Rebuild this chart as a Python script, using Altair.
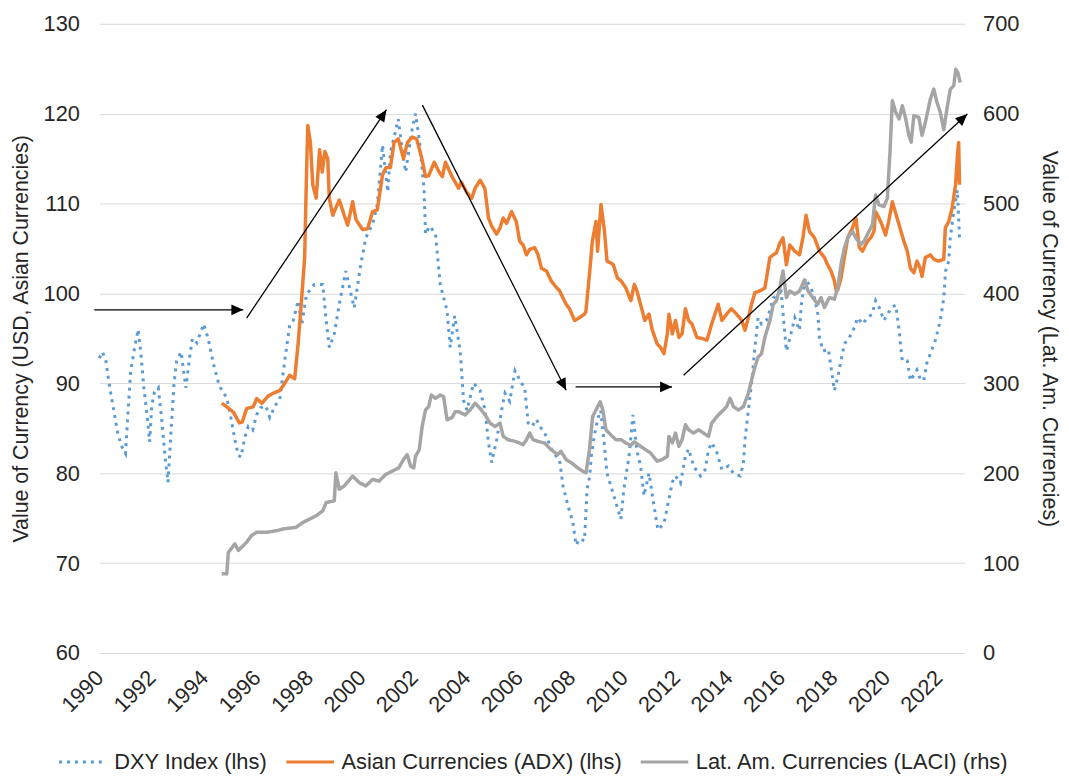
import math
import altair as alt
import pandas as pd

# ---------------- data ----------------
series_names = ["DXY Index (lhs)", "Asian Currencies (ADX) (lhs)", "Lat. Am. Currencies (LACI) (rhs)"]
series_colors = ["#5B9BD5", "#ED7D31", "#A5A5A5"]

x_ticks = [1990, 1992, 1994, 1996, 1998, 2000, 2002, 2004, 2006, 2008, 2010,
           2012, 2014, 2016, 2018, 2020, 2022]
left_ticks = [60, 70, 80, 90, 100, 110, 120, 130]
right_ticks = [0, 100, 200, 300, 400, 500, 600, 700]

dxy_year = [
    1990.00, 1990.12, 1990.25, 1990.40, 1990.55, 1990.70, 1990.85, 1991.00, 1991.10, 1991.20,
    1991.35, 1991.48, 1991.58, 1991.70, 1991.80, 1991.92, 1992.00, 1992.10, 1992.25, 1992.38,
    1992.50, 1992.62, 1992.72, 1992.85, 1992.95, 1993.12, 1993.30, 1993.45, 1993.55, 1993.72,
    1993.98, 1994.15, 1994.35, 1994.55, 1994.70, 1994.85, 1995.00, 1995.15, 1995.30, 1995.40,
    1995.55, 1995.68, 1995.85, 1996.00, 1996.15, 1996.35, 1996.50, 1996.70, 1996.88, 1997.07,
    1997.26, 1997.40, 1997.58, 1997.72, 1997.90, 1998.20, 1998.52, 1998.65, 1998.77, 1998.96,
    1999.15, 1999.40, 1999.55, 1999.72, 1999.97, 2000.16, 2000.42, 2000.60, 2000.80, 2001.00,
    2001.10, 2001.25, 2001.40, 2001.55, 2001.68, 2001.93, 2002.06, 2002.20, 2002.38, 2002.44,
    2002.60, 2002.82, 2003.00, 2003.26, 2003.38, 2003.55, 2003.76, 2003.89, 2004.02, 2004.27,
    2004.52, 2004.71, 2004.84, 2004.96, 2005.15, 2005.34, 2005.47, 2005.65, 2005.85, 2006.10,
    2006.22, 2006.35, 2006.50, 2006.67, 2006.80, 2006.98, 2007.10, 2007.30, 2007.55, 2007.68,
    2007.87, 2008.06, 2008.18, 2008.31, 2008.50, 2008.60, 2008.70, 2008.76, 2008.87, 2009.00,
    2009.12, 2009.25, 2009.36, 2009.62, 2009.89, 2010.00, 2010.20, 2010.35, 2010.50, 2010.64,
    2010.77, 2010.96, 2011.15, 2011.30, 2011.53, 2011.72, 2011.85, 2011.97, 2012.16, 2012.35,
    2012.47, 2012.66, 2012.92, 2013.10, 2013.23, 2013.35, 2013.55, 2013.74, 2013.99, 2014.18,
    2014.43, 2014.56, 2014.62, 2014.75, 2014.87, 2015.00, 2015.12, 2015.25, 2015.44, 2015.57,
    2015.70, 2016.00, 2016.20, 2016.33, 2016.52, 2016.70, 2016.77, 2016.92, 2017.14, 2017.27,
    2017.40, 2017.46, 2017.60, 2017.80, 2017.90, 2018.03, 2018.16, 2018.28, 2018.41, 2018.60,
    2018.79, 2018.91, 2019.10, 2019.29, 2019.47, 2019.60, 2019.73, 2019.92, 2020.05, 2020.24,
    2020.37, 2020.50, 2020.56, 2020.62, 2020.81, 2020.93, 2021.18, 2021.30, 2021.44, 2021.55,
    2021.69, 2021.88, 2022.07, 2022.20, 2022.27, 2022.39, 2022.45, 2022.58, 2022.72, 2022.80,
]
dxy_value = [
    92.8, 93.5, 92.5, 89.5, 87.0, 84.5, 83.0, 82.2, 87.0, 91.5,
    94.0, 96.0, 93.5, 89.5, 87.0, 83.5, 87.5, 89.0, 89.5, 86.0,
    82.0, 79.0, 84.0, 90.0, 92.5, 93.5, 89.5, 93.0, 95.0, 94.5,
    96.6, 95.0, 92.2, 90.0, 89.0, 88.5, 86.5, 84.0, 82.0, 81.8,
    84.0, 85.2, 84.8, 86.5, 87.3, 87.5, 86.2, 87.5, 88.2, 92.5,
    96.5, 97.0, 99.2, 96.5, 99.9, 101.0, 101.0, 97.0, 94.0, 95.5,
    98.8, 102.5, 100.5, 98.4, 103.2, 106.2, 107.7, 109.9, 116.5, 111.3,
    115.7, 117.5, 119.4, 116.0, 113.5, 118.3, 120.0, 117.2, 111.7, 106.6,
    107.5, 106.6, 101.0, 98.1, 94.0, 97.5, 93.6, 88.1, 87.0, 90.0,
    89.2, 87.0, 83.4, 81.2, 83.7, 87.0, 88.9, 88.0, 91.4, 90.0,
    89.6, 85.6, 85.2, 86.0, 85.2, 84.5, 83.7, 82.3, 81.5, 78.6,
    76.4, 74.5, 72.0, 72.7, 72.5, 78.2, 79.7, 81.9, 84.1, 86.0,
    87.0, 83.4, 80.0, 77.5, 74.9, 78.2, 81.9, 86.5, 82.5, 80.8,
    77.5, 80.0, 76.4, 73.7, 74.4, 77.1, 79.0, 79.7, 78.9, 81.9,
    82.7, 80.8, 79.7, 80.4, 82.6, 83.4, 82.3, 80.4, 80.8, 80.0,
    79.7, 81.0, 83.7, 87.0, 90.0, 94.0, 97.3, 96.6, 97.0, 98.1,
    99.5, 100.2, 93.6, 95.0, 97.3, 95.9, 98.8, 101.7, 100.6, 99.5,
    97.7, 95.1, 93.6, 93.8, 91.8, 89.2, 90.7, 92.5, 94.4, 95.1,
    96.2, 97.3, 96.6, 97.3, 97.7, 99.2, 98.5, 97.0, 97.7, 98.5,
    98.7, 95.9, 94.0, 92.5, 92.5, 90.3, 91.5, 90.5, 90.3, 92.2,
    93.3, 94.8, 97.0, 99.5, 102.5, 103.6, 106.2, 109.1, 111.5, 106.2,
]

adx_year = [
    1994.67, 1994.90, 1995.11, 1995.34, 1995.45, 1995.62, 1995.87, 1996.00, 1996.20, 1996.44,
    1996.63, 1996.88, 1997.07, 1997.26, 1997.45, 1997.58, 1997.70, 1997.83, 1997.90, 1997.95,
    1998.05, 1998.14, 1998.27, 1998.40, 1998.50, 1998.60, 1998.71, 1998.77, 1998.90, 1999.15,
    1999.34, 1999.47, 1999.66, 1999.79, 2000.04, 2000.23, 2000.42, 2000.60, 2000.80, 2000.93,
    2001.10, 2001.24, 2001.40, 2001.60, 2001.75, 2001.93, 2002.10, 2002.30, 2002.44, 2002.56,
    2002.77, 2002.96, 2003.08, 2003.20, 2003.45, 2003.70, 2003.80, 2004.00, 2004.20, 2004.33,
    2004.52, 2004.70, 2004.84, 2004.96, 2005.15, 2005.28, 2005.40, 2005.53, 2005.72, 2005.90,
    2006.03, 2006.16, 2006.29, 2006.41, 2006.60, 2006.73, 2006.86, 2007.05, 2007.23, 2007.42,
    2007.55, 2007.68, 2007.80, 2007.93, 2008.12, 2008.30, 2008.50, 2008.55, 2008.69, 2008.80,
    2008.94, 2009.00, 2009.13, 2009.26, 2009.36, 2009.50, 2009.60, 2009.76, 2009.90, 2010.08,
    2010.27, 2010.40, 2010.50, 2010.70, 2010.80, 2010.96, 2011.08, 2011.27, 2011.40, 2011.53,
    2011.66, 2011.72, 2011.85, 2011.97, 2012.10, 2012.22, 2012.35, 2012.47, 2012.60, 2012.79,
    2012.98, 2013.17, 2013.35, 2013.60, 2013.74, 2013.92, 2014.10, 2014.30, 2014.50, 2014.62,
    2014.75, 2014.87, 2015.00, 2015.20, 2015.38, 2015.57, 2015.70, 2015.82, 2015.95, 2016.07,
    2016.20, 2016.33, 2016.52, 2016.70, 2016.83, 2016.95, 2017.08, 2017.27, 2017.46, 2017.65,
    2017.77, 2017.90, 2018.03, 2018.10, 2018.16, 2018.28, 2018.41, 2018.54, 2018.72, 2018.85,
    2018.98, 2019.10, 2019.29, 2019.42, 2019.54, 2019.60, 2019.73, 2019.85, 2019.98, 2020.10,
    2020.24, 2020.37, 2020.50, 2020.68, 2020.81, 2020.93, 2021.06, 2021.18, 2021.30, 2021.37,
    2021.50, 2021.69, 2021.82, 2022.00, 2022.20, 2022.26, 2022.39, 2022.52, 2022.65, 2022.73,
    2022.77, 2022.80,
]
adx_value = [
    87.8, 87.3, 86.8, 85.6, 85.7, 87.2, 87.4, 88.3, 87.8, 88.6,
    88.9, 89.2, 90.0, 90.9, 90.5, 94.4, 98.8, 104.0, 113.2, 118.7,
    116.8, 112.1, 110.6, 116.0, 113.5, 115.8, 115.0, 110.6, 108.7, 110.4,
    108.7, 107.6, 110.2, 108.2, 107.1, 107.2, 109.1, 109.3, 113.2, 114.0,
    114.0, 116.8, 117.2, 115.0, 116.8, 117.4, 117.2, 115.0, 113.0, 113.1,
    114.6, 113.5, 113.0, 114.6, 113.0, 111.7, 112.4, 111.3, 110.6, 111.7,
    112.6, 111.7, 108.4, 107.5, 106.6, 107.3, 108.4, 107.8, 109.1, 108.0,
    105.8, 105.4, 104.3, 104.9, 105.1, 104.3, 102.8, 102.5, 101.4, 100.7,
    100.3, 99.5, 98.8, 98.3, 97.0, 97.3, 97.7, 97.9, 102.1, 105.8,
    108.0, 104.7, 109.9, 107.0, 103.6, 103.4, 103.2, 101.7, 101.4, 100.6,
    99.2, 101.0, 100.3, 98.1, 97.0, 97.7, 96.0, 94.4, 94.0, 93.3,
    95.5, 97.7, 95.5, 97.0, 95.1, 95.5, 98.3, 97.0, 96.6, 95.1,
    95.0, 94.8, 96.6, 98.8, 97.0, 97.7, 98.3, 97.7, 97.0, 95.9,
    97.3, 98.8, 100.1, 100.3, 100.6, 104.0, 104.3, 104.5, 105.6, 106.2,
    103.2, 105.4, 104.7, 104.3, 106.2, 108.7, 106.9, 106.2, 104.7, 104.0,
    103.2, 102.5, 101.4, 100.3, 100.4, 101.7, 104.0, 106.2, 107.3, 108.4,
    105.1, 104.7, 105.8, 106.2, 106.9, 109.1, 108.4, 107.6, 106.5, 108.0,
    110.2, 108.9, 107.6, 105.8, 104.7, 102.8, 102.3, 103.6, 102.8, 101.9,
    104.0, 104.3, 103.8, 103.6, 103.8, 107.3, 108.0, 109.5, 112.1, 115.7,
    116.8, 112.1,
]

laci_year = [
    1994.67, 1994.86, 1994.92, 1995.17, 1995.30, 1995.62, 1995.80, 1996.00, 1996.38, 1996.75,
    1997.00, 1997.50, 1997.77, 1998.02, 1998.27, 1998.52, 1998.65, 1998.96, 1999.02, 1999.15,
    1999.34, 1999.66, 1999.92, 2000.16, 2000.42, 2000.67, 2000.92, 2001.17, 2001.42, 2001.60,
    2001.74, 2001.87, 2001.99, 2002.06, 2002.20, 2002.31, 2002.44, 2002.56, 2002.66, 2002.82,
    2003.00, 2003.13, 2003.26, 2003.45, 2003.57, 2003.70, 2003.95, 2004.14, 2004.33, 2004.52,
    2004.71, 2004.90, 2005.09, 2005.28, 2005.40, 2005.59, 2005.85, 2006.03, 2006.16, 2006.29,
    2006.41, 2006.54, 2006.73, 2006.98, 2007.23, 2007.48, 2007.60, 2007.80, 2008.00, 2008.24,
    2008.43, 2008.56, 2008.69, 2008.81, 2008.94, 2009.10, 2009.20, 2009.32, 2009.50, 2009.70,
    2009.90, 2010.08, 2010.27, 2010.40, 2010.64, 2010.83, 2011.02, 2011.27, 2011.46, 2011.66,
    2011.72, 2011.85, 2011.97, 2012.10, 2012.22, 2012.35, 2012.47, 2012.66, 2012.85, 2013.04,
    2013.23, 2013.35, 2013.55, 2013.67, 2013.80, 2013.92, 2014.05, 2014.18, 2014.37, 2014.56,
    2014.75, 2014.87, 2015.00, 2015.12, 2015.25, 2015.38, 2015.57, 2015.70, 2015.82, 2015.95,
    2016.07, 2016.20, 2016.33, 2016.52, 2016.70, 2016.89, 2017.02, 2017.20, 2017.40, 2017.52,
    2017.65, 2017.84, 2018.03, 2018.16, 2018.28, 2018.41, 2018.54, 2018.72, 2018.85, 2019.04,
    2019.16, 2019.35, 2019.48, 2019.60, 2019.73, 2019.92, 2020.05, 2020.15, 2020.24, 2020.37,
    2020.50, 2020.62, 2020.75, 2020.87, 2020.96, 2021.06, 2021.25, 2021.37, 2021.50, 2021.69,
    2021.82, 2021.94, 2022.07, 2022.20, 2022.32, 2022.45, 2022.58, 2022.66, 2022.74, 2022.83,
]
laci_value = [
    88.3, 88.0, 112.0, 121.4, 114.0, 123.3, 130.6, 134.3, 134.3, 136.0,
    138.0, 139.8, 145.4, 149.0, 152.7, 158.2, 167.4, 169.3, 200.6, 182.1,
    185.8, 196.8, 189.5, 185.8, 193.1, 191.2, 198.7, 202.3, 206.0, 215.2,
    220.8, 207.9, 206.0, 218.9, 226.2, 252.0, 270.4, 274.1, 287.0, 283.4,
    287.0, 285.2, 259.4, 262.0, 268.5, 268.5, 264.9, 270.4, 277.8, 272.2,
    264.9, 255.7, 252.0, 255.7, 241.0, 237.3, 235.5, 233.6, 231.8, 237.3,
    244.7, 237.3, 235.5, 233.6, 226.2, 220.8, 224.4, 215.2, 211.6, 206.0,
    202.3, 200.5, 226.2, 263.0, 270.4, 279.6, 270.4, 248.3, 242.8, 237.3,
    237.3, 233.6, 231.0, 235.0, 229.9, 226.2, 222.6, 213.4, 215.2, 218.9,
    241.0, 233.6, 244.7, 229.9, 237.3, 253.9, 248.3, 244.7, 248.3, 244.7,
    241.0, 255.7, 263.0, 266.7, 270.4, 274.1, 283.4, 274.1, 270.4, 274.1,
    288.9, 303.5, 318.2, 329.2, 332.9, 351.3, 369.7, 388.1, 391.8, 406.5,
    425.0, 395.5, 402.8, 399.2, 402.8, 415.0, 403.0, 395.5, 388.1, 395.5,
    384.4, 395.5, 393.7, 406.5, 432.3, 450.7, 461.7, 469.1, 461.7, 454.4,
    458.0, 469.1, 476.5, 509.6, 498.6, 496.7, 505.9, 557.4, 614.5, 601.5,
    594.2, 608.9, 594.2, 575.8, 568.4, 597.9, 596.0, 575.8, 590.5, 616.3,
    627.3, 612.6, 601.5, 582.0, 605.2, 627.3, 631.0, 649.4, 645.7, 634.7,
]

# trend arrows (start / tip, in year and lhs-value units)
arrow_x1 = [1989.81, 1995.62, 2002.32, 2008.16, 2012.28]
arrow_y1 = [98.18, 97.26, 120.95, 89.60, 90.90]
arrow_x2 = [1995.49, 2000.95, 2007.80, 2011.84, 2023.10]
arrow_y2 = [98.18, 120.44, 89.24, 89.60, 119.96]

# ---------------- layout / style ----------------
W, H = 872, 634
X_DOMAIN = [1990, 2023]
L_DOMAIN = [60, 130]
R_DOMAIN = [0, 700]
FONT = "Liberation Sans"
TEXT = "#262626"
GRID = "#D9D9D9"
HEAD = "M0,0L0.9,2L-0.9,2Z"

px_year = W / (X_DOMAIN[1] - X_DOMAIN[0])
px_val = H / (L_DOMAIN[1] - L_DOMAIN[0])
arrow_angle = []
for a, b, c, d in zip(arrow_x1, arrow_y1, arrow_x2, arrow_y2):
    dx = (c - a) * px_year
    dy = -(d - b) * px_val
    arrow_angle.append(math.degrees(math.atan2(dx, -dy)) % 360)

dxy_df = pd.DataFrame({"year": dxy_year, "value": dxy_value, "series": series_names[0]})
adx_df = pd.DataFrame({"year": adx_year, "value": adx_value, "series": series_names[1]})
laci_df = pd.DataFrame({"year": laci_year, "value": laci_value, "series": series_names[2]})
arrows_df = pd.DataFrame({"x1": arrow_x1, "y1": arrow_y1, "x2": arrow_x2, "y2": arrow_y2,
                          "angle": arrow_angle})

x_scale = alt.Scale(domain=X_DOMAIN, nice=False, zero=False)
x_axis = alt.Axis(values=x_ticks, format="d", labelAngle=-45, labelAlign="right",
                  labelBaseline="middle", labelPadding=21, grid=False, ticks=False,
                  tickSize=0, domain=False, labelOverlap=False, labelFlush=False)


def xenc(field):
    return alt.X(f"{field}:Q", scale=x_scale, axis=x_axis, title=None)


left_scale = alt.Scale(domain=L_DOMAIN, nice=False, zero=False)
y_left = alt.Y("value:Q", scale=left_scale,
               axis=alt.Axis(orient="left", values=left_ticks, grid=True, gridColor=GRID,
                             gridWidth=1, ticks=False, tickSize=0, domain=False,
                             labelPadding=20, titlePadding=11,
                             title="Value of Currency (USD, Asian Currencies)"))
y_right = alt.Y("value:Q", scale=alt.Scale(domain=R_DOMAIN, nice=False, zero=False),
                axis=alt.Axis(orient="right", values=right_ticks, grid=False, ticks=False,
                              tickSize=0, domain=False, labelPadding=18, titlePadding=19,
                              titleAngle=90,
                              title="Value of Currency (Lat. Am. Currencies)"))

legend = alt.Legend(orient="none", legendX=-42, legendY=718, direction="horizontal",
                    title=None, symbolType="stroke", symbolSize=2304, symbolStrokeWidth=3,
                    labelFont=FONT, labelFontSize=22, labelColor=TEXT, labelOffset=6,
                    columnPadding=12, padding=0, labelLimit=500)
color = alt.Color("series:N", scale=alt.Scale(domain=series_names, range=series_colors),
                  legend=legend)
dash = alt.StrokeDash("series:N",
                      scale=alt.Scale(domain=series_names,
                                      range=[[3, 5], [1, 0], [1, 0]]),
                      legend=legend)

dxy_line = alt.Chart(dxy_df).mark_line(strokeWidth=3, strokeCap="butt").encode(
    x=xenc("year"), y=y_left, color=color, strokeDash=dash)
adx_line = alt.Chart(adx_df).mark_line(strokeWidth=3.5, strokeJoin="round").encode(
    x=xenc("year"), y=y_left, color=color, strokeDash=dash)
laci_line = alt.Chart(laci_df).mark_line(strokeWidth=3.5, strokeJoin="round").encode(
    x=xenc("year"), y=y_right, color=color, strokeDash=dash)

arrow_lines = alt.Chart(arrows_df).mark_rule(color="black", strokeWidth=1.3).encode(
    x=xenc("x1"), x2="x2:Q",
    y=alt.Y("y1:Q", scale=left_scale, axis=None), y2="y2:Q")
arrow_heads = alt.Chart(arrows_df).mark_point(
    shape=HEAD, filled=True, size=144, color="black", opacity=1, strokeWidth=0).encode(
    x=xenc("x2"), y=alt.Y("y2:Q", scale=left_scale, axis=None),
    angle=alt.Angle("angle:Q", scale=None))

left = alt.layer(dxy_line, adx_line)
chart = alt.layer(left, laci_line, arrow_lines, arrow_heads).resolve_scale(
    y="independent").properties(
    width=W, height=H,
    padding={"left": 92, "top": 13, "right": 97, "bottom": 121},
    autosize=alt.AutoSizeParams(type="none"),
    background="white",
).configure_view(stroke=None).configure_axis(
    labelFont=FONT, titleFont=FONT, labelFontSize=22, titleFontSize=21.5,
    labelColor=TEXT, titleColor=TEXT, titleFontWeight="normal")

chart.save("out.html", embed_options={"renderer": "svg", "actions": False})
